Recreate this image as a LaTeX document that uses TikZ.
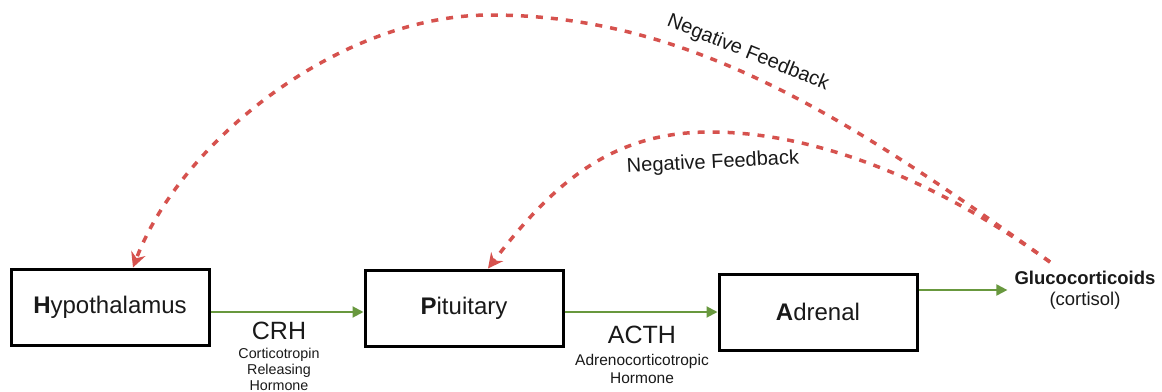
\documentclass[tikz,border=0pt]{standalone}
\usepackage{fontspec}
\setmainfont{Liberation Sans}
\usetikzlibrary{arrows.meta,calc}
\definecolor{fbred}{RGB}{214,82,78}
\definecolor{fwgreen}{RGB}{104,152,62}
\definecolor{txt}{RGB}{25,25,25}
\begin{document}
\begin{tikzpicture}[x=1pt,y=-1pt,
  organ/.style={draw=black,line width=3pt,minimum width=198pt,minimum height=76pt,inner sep=0pt,
     text=txt,font=\fontsize{24}{28}\selectfont},
  hormone/.style={text=txt,inner sep=0pt,font=\fontsize{25}{28}\selectfont},
  hormonesub/.style={text=txt,inner sep=0pt,align=center},
  fwarrow/.style={draw=fwgreen,line width=2pt,-{Triangle[length=11pt,width=11pt]}},
  fbarrow/.style={draw=fbred,line width=3.5pt,dash pattern=on 7pt off 8pt,
     -{Stealth[length=15pt,width=15pt,inset=5pt]}},
  fblabel/.style={text=txt,inner sep=0pt,font=\fontsize{20}{24}\selectfont}]
\useasboundingbox (0,0) rectangle (1162,391);

\node[organ] (H) at (110,307) {\textbf{H}ypothalamus};
\node[organ] (P) at (464,308) {\textbf{P}ituitary};
\node[organ] (A) at (818,312) {\textbf{A}drenal};
\node[text=txt,inner sep=0pt,align=center,font=\fontsize{18.5}{21}\selectfont] (G) at (1085,290)
  {\textbf{Glucocorticoids}\\(cortisol)};

\node[hormone] (crh) at (279,331) {CRH};
\node[hormonesub,font=\fontsize{14.3}{16}\selectfont] (crhd) at (279,369) {Corticotropin\\Releasing\\Hormone};
\node[hormone] (acth) at (642,335) {ACTH};
\node[hormonesub,font=\fontsize{15.5}{18}\selectfont] (acthd) at (642,369) {Adrenocorticotropic\\Hormone};

\draw[fwarrow] (H.east |- 0,312) -- (P.west |- 0,312);
\draw[fwarrow] (P.east |- 0,312) -- (A.west |- 0,312);
\draw[fwarrow] (A.east |- 0,290) -- ([xshift=-7pt]G.west |- 0,290);

\coordinate (fb) at (1050,262);
\coordinate (outerpeak) at (490,15);
\coordinate (innerpeak) at (710,132);

\draw[fbarrow] (fb) .. controls (847,117) and (690,15) .. (outerpeak)
  .. controls (340,15) and (181,141) .. (H.north -| 133,0);
\draw[fbarrow] (fb) .. controls (928,175) and (810,132) .. (innerpeak)
  .. controls (610,132) and (552,185) .. (P.north -| 488,0);

\node[fblabel,rotate=-22] (nf1) at (748,53) {Negative Feedback};
\node[fblabel,rotate=3] (nf2) at (713,163) {Negative Feedback};
\end{tikzpicture}
\end{document}
